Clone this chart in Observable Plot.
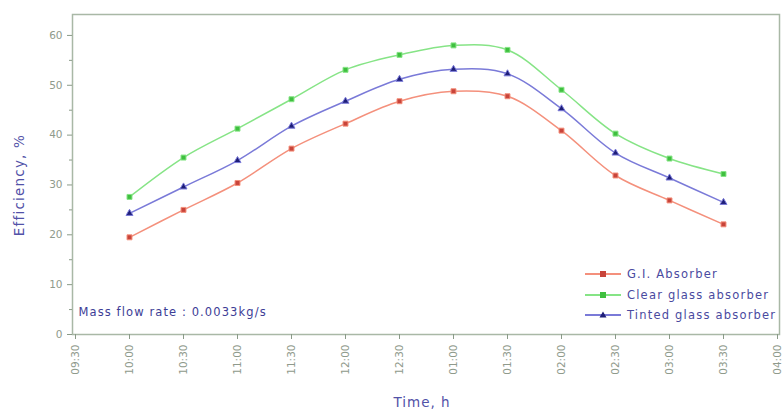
<!DOCTYPE html>
<html>
<head>
<meta charset="utf-8">
<script src="https://cdn.jsdelivr.net/npm/d3@7"></script>
<script src="https://cdn.jsdelivr.net/npm/@observablehq/plot@0.6"></script>
<style>
  html, body { margin: 0; padding: 0; background: #fff; }
  #wrap { position: relative; width: 782px; height: 412px; font-family: "DejaVu Sans", sans-serif; }
  #legend { position: absolute; left: 585px; top: 264px; font-size: 11.5px; color: #4a4aa0; line-height: 20.5px; letter-spacing: 1.2px; }
  #legend div { display: flex; align-items: center; white-space: nowrap; }
  #legend svg { margin-right: 6px; }
</style>
</head>
<body>
<div id="wrap"></div>
<script>
// Tick labels (half-hour steps)
const times = ["09:30","10:00","10:30","11:00","11:30","12:00","12:30","01:00","01:30","02:00","02:30","03:00","03:30","04:00"];
// Measured times
const pointTimes = ["10:00","10:30","11:00","11:30","12:00","12:30","01:00","01:30","02:00","02:30","03:00","03:30"];
// Series values (efficiency, %)
const giAbsorber     = [19.5, 25.0, 30.4, 37.3, 42.3, 46.8, 48.8, 47.8, 40.9, 31.9, 26.9, 22.1];
const clearAbsorber  = [27.6, 35.5, 41.3, 47.2, 53.1, 56.1, 58.0, 57.1, 49.1, 40.3, 35.3, 32.2];
const tintedAbsorber = [24.3, 29.6, 34.9, 41.8, 46.8, 51.2, 53.2, 52.3, 45.3, 36.4, 31.4, 26.5];
const seriesNames = ["G.I. Absorber", "Clear glass absorber", "Tinted glass absorber"];
const yMajor = [0, 10, 20, 30, 40, 50, 60];
const yMinor = [5, 15, 25, 35, 45, 55];

const styles = {
  "G.I. Absorber":         {line: "#f4907c", dot: "#c8443a", symbol: "square"},
  "Clear glass absorber":  {line: "#86e486", dot: "#3fbf3f", symbol: "square"},
  "Tinted glass absorber": {line: "#7a7ad8", dot: "#1e1e78", symbol: "triangle"}
};

const seriesValues = [giAbsorber, clearAbsorber, tintedAbsorber];
const data = seriesNames.flatMap((name, i) =>
  pointTimes.map((t, j) => ({series: name, time: t, value: seriesValues[i][j]})));

const marks = [
  Plot.frame({stroke: "#a9b8a6", strokeWidth: 1.5}),
  Plot.axisY(yMajor, {label: null, tickSize: 5, tickPadding: 5, stroke: "#8a9a88", fill: "#8f9a8c", fontSize: 10.5}),
  Plot.axisY(yMinor, {label: null, tickSize: 3, stroke: "#8a9a88", tickFormat: () => ""}),
  Plot.axisX(times, {label: null, tickSize: 5, tickRotate: -90, tickPadding: 5, stroke: "#8a9a88", fill: "#8f9a8c", fontSize: 10.5}),
];
for (const name of seriesNames) {
  const s = styles[name];
  const d = data.filter(r => r.series === name);
  marks.push(Plot.line(d, {x: "time", y: "value", stroke: s.line, strokeWidth: 1.5, curve: "catmull-rom"}));
  marks.push(Plot.dot(d, {x: "time", y: "value", fill: s.dot, stroke: s.line, strokeWidth: 1, symbol: s.symbol, r: s.symbol === "triangle" ? 2.6 : 2.8}));
}
marks.push(Plot.text(["Mass flow rate : 0.0033kg/s"], {frameAnchor: "bottom-left", dx: 6, dy: -19, text: d => d, fill: "#3d3d96", fontSize: 11.5, textAnchor: "start", fontFamily: "DejaVu Sans", letterSpacing: "1.1px"}));

const chart = Plot.plot({
  width: 782,
  height: 412,
  marginTop: 14,
  marginLeft: 72,
  marginRight: 3,
  marginBottom: 78,
  style: {fontFamily: "DejaVu Sans, sans-serif", background: "#fff"},
  x: {type: "point", domain: times, padding: 0, axis: null},
  y: {domain: [0, 64.2], axis: null},
  marks
});

const wrap = document.getElementById("wrap");
wrap.appendChild(chart);
chart.querySelectorAll("text").forEach(t => {
  if (t.textContent.startsWith("Mass flow")) t.setAttribute("letter-spacing", "1.1");
});

// Axis titles
const svg = d3.select(chart);
svg.append("text").attr("transform", "translate(24,185) rotate(-90)")
  .attr("text-anchor", "middle").attr("fill", "#5252a8").attr("font-size", 13.5)
  .attr("letter-spacing", 1.2).text("Efficiency, %");
svg.append("text").attr("x", 422).attr("y", 407)
  .attr("text-anchor", "middle").attr("fill", "#5252a8").attr("font-size", 13.5)
  .attr("letter-spacing", 1).text("Time, h");

// Legend
const legend = document.createElement("div");
legend.id = "legend";
for (const name of seriesNames) {
  const s = styles[name];
  const row = document.createElement("div");
  const sym = s.symbol === "triangle"
    ? `<path d="M18,6.5 L21.5,12.5 L14.5,12.5 Z" fill="${s.dot}"/>`
    : `<rect x="15" y="7" width="6" height="6" fill="${s.dot}"/>`;
  row.innerHTML = `<svg width="36" height="20"><line x1="0" y1="10" x2="36" y2="10" stroke="${s.line}" stroke-width="2"/>${sym}</svg><span>${name}</span>`;
  legend.appendChild(row);
}
wrap.appendChild(legend);
</script>
</body>
</html>
